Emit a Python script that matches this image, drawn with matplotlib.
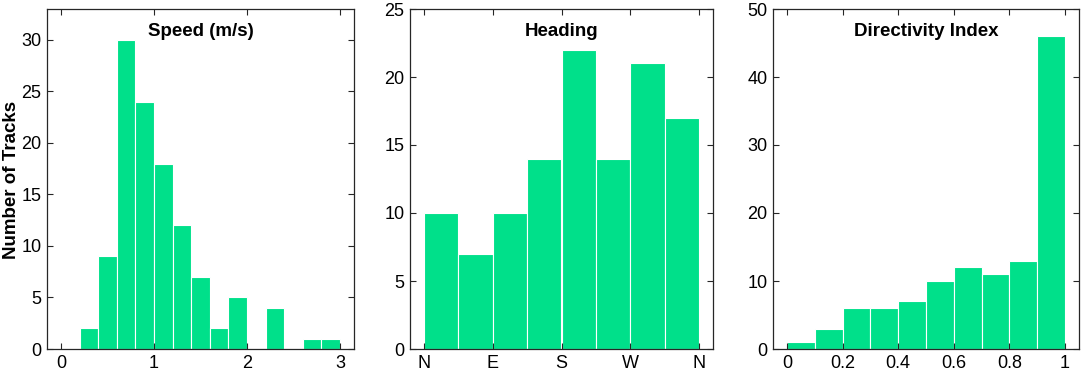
import numpy as np
import matplotlib
matplotlib.use("Agg")
import matplotlib.pyplot as plt

plt.rcParams['font.family'] = ['Liberation Sans', 'DejaVu Sans']

# speed histogram, 0.2 m/s bins from 0.2 to 3.0
speed_edges = np.round(np.arange(0.2, 3.01, 0.2), 2)
speed_counts = [2, 9, 30, 24, 18, 12, 7, 2, 5, 0, 4, 0, 1, 1]

# heading histogram, 45 degree bins
heading_edges = np.arange(0, 361, 45)
heading_counts = [10, 7, 10, 14, 22, 14, 21, 17]
heading_ticks = [0, 90, 180, 270, 360]
heading_labels = ["N", "E", "S", "W", "N"]

# directivity index, 0.1 bins
di_edges = np.round(np.arange(0, 1.01, 0.1), 2)
di_counts = [1, 3, 6, 6, 7, 10, 12, 11, 13, 46]

bar_color = "#00E08A"
axis_color = "#262626"

fig = plt.figure(figsize=(10.84, 3.74), dpi=100)
W, H = 1084, 374
boxes = [(47, 354), (410, 713), (773, 1079)]
top, bottom = 9, 349

panels = [
    ("Speed (m/s)", speed_edges, speed_counts, (-0.15, 3.15), (0, 33), [0, 1, 2, 3], None, [0, 5, 10, 15, 20, 25, 30]),
    ("Heading", heading_edges, heading_counts, (-18, 378), (0, 25), heading_ticks, heading_labels, [0, 5, 10, 15, 20, 25]),
    ("Directivity Index", di_edges, di_counts, (-0.05, 1.05), (0, 50), [0, 0.2, 0.4, 0.6, 0.8, 1], ["0", "0.2", "0.4", "0.6", "0.8", "1"], [0, 10, 20, 30, 40, 50]),
]

for (l, r), (title, edges, counts, xl, yl, xt, xtl, yt) in zip(boxes, panels):
    ax = fig.add_axes([l / W, 1 - bottom / H, (r - l) / W, (bottom - top) / H])
    ax.hist(edges[:-1], bins=edges, weights=counts, color=bar_color,
            edgecolor="white", linewidth=0.8)
    ax.set_xlim(*xl)
    ax.set_ylim(*yl)
    ax.set_xticks(xt)
    if xtl is not None:
        ax.set_xticklabels(xtl)
    ax.set_yticks(yt)
    ax.tick_params(direction="in", top=True, right=True, length=4,
                   width=0.8, color=axis_color, labelsize=13, labelcolor="black", pad=4)
    for s in ax.spines.values():
        s.set_color(axis_color)
        s.set_linewidth(0.9)
    ax.text(0.5, 0.935, title, transform=ax.transAxes, ha="center", va="center",
            fontsize=13.5, fontweight="bold")

fig.text(12 / W, 1 - 180 / H, "Number of Tracks", rotation=90, ha="center", va="center",
         fontsize=13.5, fontweight="bold")

fig.savefig("out.png", dpi=100)
